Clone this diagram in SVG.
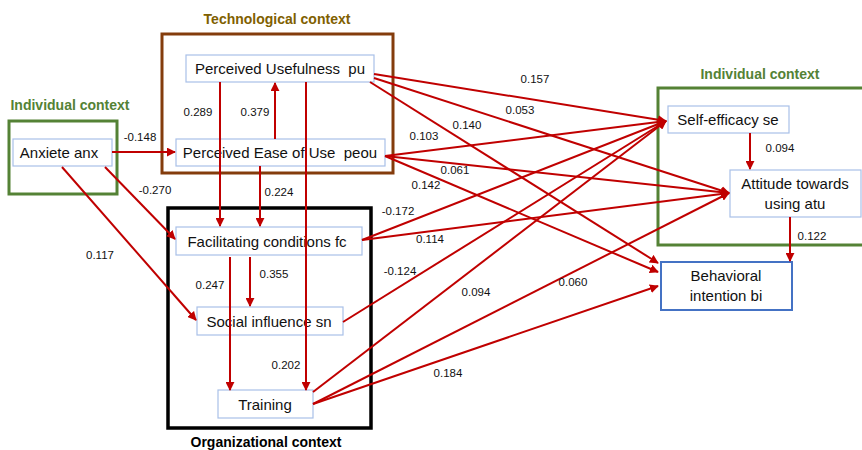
<svg xmlns="http://www.w3.org/2000/svg" width="862" height="450" viewBox="0 0 862 450">
<defs>
<marker id="ah" viewBox="0 0 10 10" refX="9" refY="5" markerWidth="4.5" markerHeight="4.5" orient="auto" markerUnits="strokeWidth">
<path d="M0,0 L10,5 L0,10 z" fill="#C00000"/>
</marker>
<style>
.ctx{font-family:"Liberation Sans",Arial,sans-serif;font-weight:bold;font-size:14px;text-anchor:middle}
.node rect{fill:#fff;stroke:#A9C0E8;stroke-width:1.2}
.node text{font-family:"Liberation Sans",Arial,sans-serif;font-size:15px;fill:#111;text-anchor:middle;white-space:pre}
.e{stroke:#C00000;stroke-width:2;fill:none;marker-end:url(#ah)}
.lbl{font-family:"Liberation Sans",Arial,sans-serif;font-size:11.5px;fill:#111;text-anchor:middle}
</style>
</defs>
<rect width="862" height="450" fill="#fff"/>
<g id="contexts">
<rect x="162" y="34" width="231" height="139" fill="none" stroke="#843C0C" stroke-width="3"/>
<text class="ctx" x="277" y="24" fill="#7F6000">Technological context</text>
<rect x="9" y="121" width="108" height="73" fill="none" stroke="#548235" stroke-width="3"/>
<text class="ctx" x="70" y="110" fill="#548235">Individual context</text>
<rect x="168" y="208" width="203" height="220" fill="none" stroke="#000" stroke-width="3.5"/>
<text class="ctx" x="266" y="447" fill="#000">Organizational context</text>
<rect x="658" y="88" width="206" height="157" fill="none" stroke="#548235" stroke-width="3"/>
<text class="ctx" x="760" y="79" fill="#548235">Individual context</text>
</g>
<g id="pu" class="node"><rect x="186" y="55" width="188" height="27"/><text x="280" y="74" xml:space="preserve">Perceived Usefulness  pu</text></g>
<g id="peou" class="node"><rect x="176" y="139" width="209" height="27"/><text x="280" y="158" xml:space="preserve">Perceived Ease of Use  peou</text></g>
<g id="anx" class="node"><rect x="13" y="139" width="99" height="27"/><text x="59" y="158">Anxiete anx</text></g>
<g id="fc" class="node"><rect x="176" y="227" width="186" height="28"/><text x="267" y="247">Facilitating conditions fc</text></g>
<g id="sn" class="node"><rect x="197" y="307" width="146" height="28"/><text x="269" y="327">Social influence sn</text></g>
<g id="training" class="node"><rect x="218" y="390" width="95" height="28"/><text x="265" y="410">Training</text></g>
<g id="se" class="node"><rect x="668" y="106" width="121" height="27"/><text x="728" y="125">Self-efficacy se</text></g>
<g id="atu" class="node"><rect x="730" y="170" width="131" height="47"/><text x="795" y="189">Attitude towards</text><text x="795" y="209">using atu</text></g>
<g id="bi" class="node"><rect x="661" y="262" width="131" height="48" style="stroke:#4472C4;stroke-width:2"/><text x="726" y="281">Behavioral</text><text x="726" y="301">intention bi</text></g>
<g id="connectors">
<line class="e" x1="112" y1="152" x2="175" y2="152"/>
<line class="e" x1="105" y1="167" x2="175" y2="239"/>
<line class="e" x1="62" y1="167" x2="196" y2="320"/>
<line class="e" x1="275" y1="139" x2="275" y2="83"/>
<line class="e" x1="220" y1="82" x2="220" y2="226"/>
<line class="e" x1="260" y1="166" x2="260" y2="226"/>
<line class="e" x1="306" y1="82" x2="306" y2="390"/>
<line class="e" x1="250" y1="257" x2="250" y2="306"/>
<line class="e" x1="230" y1="257" x2="230" y2="390"/>
<line class="e" x1="374" y1="74" x2="666" y2="121"/>
<line class="e" x1="374" y1="78" x2="729" y2="193"/>
<line class="e" x1="370" y1="82" x2="658" y2="263"/>
<line class="e" x1="385" y1="156" x2="666" y2="121"/>
<line class="e" x1="385" y1="156" x2="729" y2="193"/>
<line class="e" x1="385" y1="156" x2="658" y2="272"/>
<line class="e" x1="362" y1="240" x2="666" y2="121"/>
<line class="e" x1="362" y1="240" x2="729" y2="193"/>
<line class="e" x1="343" y1="322" x2="666" y2="121"/>
<line class="e" x1="313" y1="392" x2="666" y2="121"/>
<line class="e" x1="313" y1="404" x2="729" y2="193"/>
<line class="e" x1="313" y1="404" x2="658" y2="286"/>
<line class="e" x1="750" y1="133" x2="750" y2="169"/>
<line class="e" x1="790" y1="217" x2="790" y2="261"/>
</g>
<g id="labels">
<text class="lbl" x="140" y="141">-0.148</text>
<text class="lbl" x="155" y="194">-0.270</text>
<text class="lbl" x="100" y="259">0.117</text>
<text class="lbl" x="198" y="116">0.289</text>
<text class="lbl" x="255" y="116">0.379</text>
<text class="lbl" x="279" y="196">0.224</text>
<text class="lbl" x="274" y="278">0.355</text>
<text class="lbl" x="210" y="289">0.247</text>
<text class="lbl" x="286" y="369">0.202</text>
<text class="lbl" x="535" y="83">0.157</text>
<text class="lbl" x="520" y="114">0.053</text>
<text class="lbl" x="467" y="129">0.140</text>
<text class="lbl" x="424" y="140">0.103</text>
<text class="lbl" x="455" y="174">0.061</text>
<text class="lbl" x="426" y="189">0.142</text>
<text class="lbl" x="398" y="215">-0.172</text>
<text class="lbl" x="430" y="243">0.114</text>
<text class="lbl" x="400" y="275">-0.124</text>
<text class="lbl" x="476" y="296">0.094</text>
<text class="lbl" x="573" y="286">0.060</text>
<text class="lbl" x="448" y="377">0.184</text>
<text class="lbl" x="780" y="152">0.094</text>
<text class="lbl" x="812" y="240">0.122</text>
</g>
</svg>
